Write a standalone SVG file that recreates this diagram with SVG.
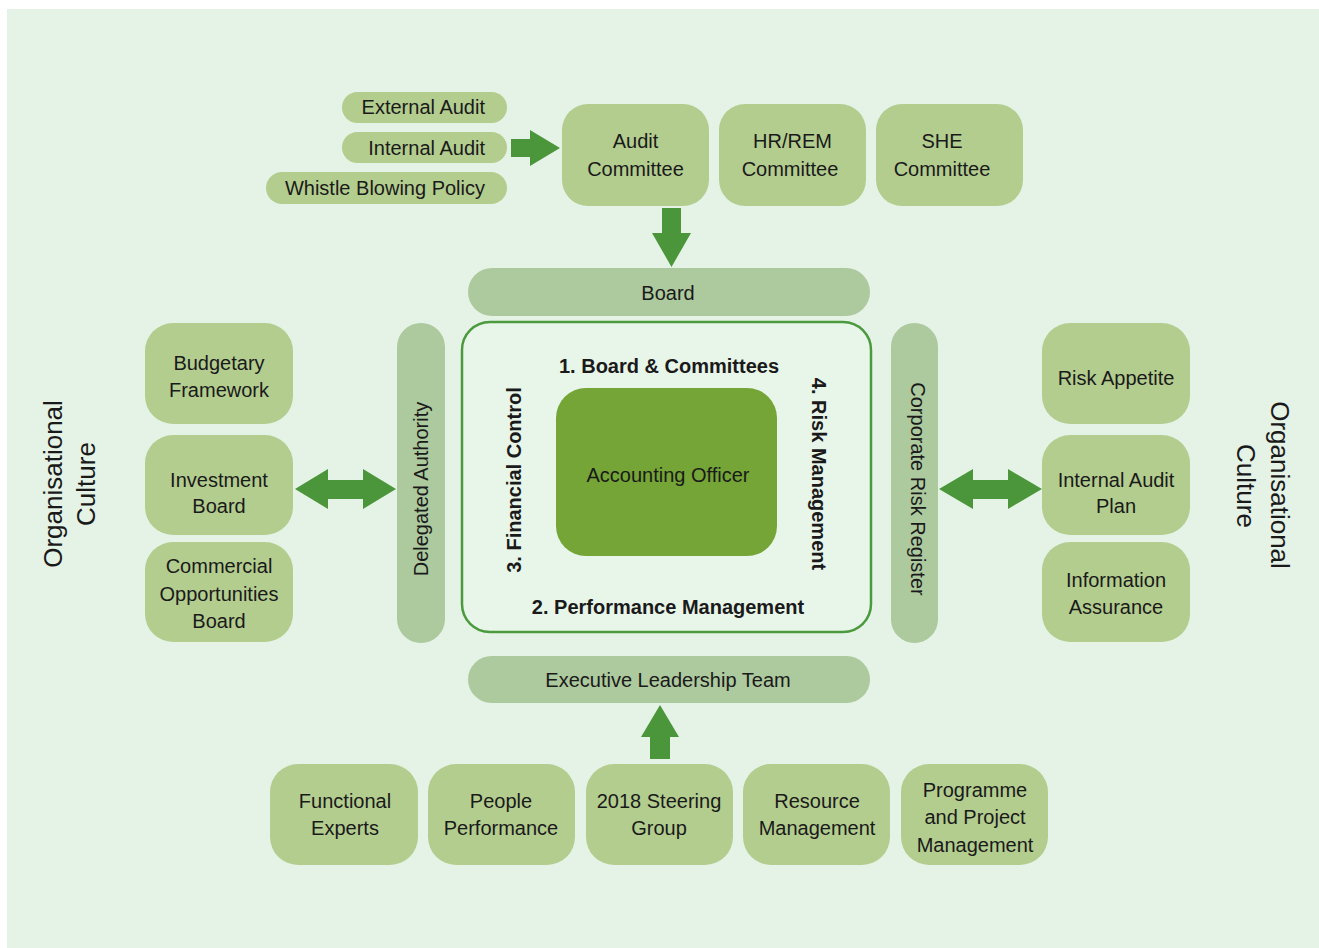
<svg xmlns="http://www.w3.org/2000/svg" width="1319" height="948" viewBox="0 0 1319 948">
<style>
text{font-family:"Liberation Sans",Arial,sans-serif;font-size:20px;fill:#1a1a1a;text-anchor:middle}
.b{font-weight:bold}
.big{font-size:26px}
.end{text-anchor:end}
.node{fill:#b3cd8f}
.pill{fill:#adc99e}
.arrow{fill:#4b963a}
</style>
<rect x="7" y="9" width="1312" height="939" fill="#e5f3e6"/>

<g id="connectors">
<polygon class="arrow" points="511,139 530,139 530,130 560,148 530,166 530,157 511,157"/>
<polygon class="arrow" points="662,208 681,208 681,233 691,233 671.5,267 652,233 662,233"/>
<polygon class="arrow" points="650,759 670,759 670,737 679,737 660,705 641,737 650,737"/>
<polygon class="arrow" points="295,489 328,469 328,480 363,480 363,469 396,489 363,509 363,499 328,499 328,509"/>
<polygon class="arrow" points="939,489 973,469 973,480 1008,480 1008,469 1042,489 1008,509 1008,499 973,499 973,509"/>
</g>

<g id="external-audit"><rect class="node" x="342" y="92" width="165" height="31" rx="15.5"/><text class="end" x="485" y="114">External Audit</text></g>
<g id="internal-audit"><rect class="node" x="342" y="132" width="165" height="31" rx="15.5"/><text class="end" x="485" y="155">Internal Audit</text></g>
<g id="whistle-blowing"><rect class="node" x="266" y="172" width="241" height="32" rx="16"/><text class="end" x="485" y="195">Whistle Blowing Policy</text></g>

<g id="audit-committee"><rect class="node" x="562" y="104" width="147" height="102" rx="26"/><text x="635.5" y="148">Audit</text><text x="635.5" y="176">Committee</text></g>
<g id="hr-rem-committee"><rect class="node" x="719" y="104" width="147" height="102" rx="26"/><text x="792.5" y="148">HR/REM</text><text x="790" y="176">Committee</text></g>
<g id="she-committee"><rect class="node" x="876" y="104" width="147" height="102" rx="26"/><text x="942" y="148">SHE</text><text x="942" y="176">Committee</text></g>

<g id="board"><rect class="pill" x="468" y="268" width="402" height="48" rx="24"/><text x="668" y="300">Board</text></g>

<g id="governance-frame">
<rect x="462" y="322" width="409" height="310" rx="28" fill="#e8f5e9" stroke="#4b9a3d" stroke-width="2.5"/>
<text class="b" x="669" y="373">1. Board &amp; Committees</text>
<text class="b" x="668" y="614">2. Performance Management</text>
<text class="b" transform="translate(521,480) rotate(-90)">3. Financial Control</text>
<text class="b" transform="translate(812,474) rotate(90)">4. Risk Management</text>
</g>

<g id="accounting-officer"><rect x="556" y="388" width="221" height="168" rx="30" fill="#74a536"/><text x="668" y="482">Accounting Officer</text></g>

<g id="delegated-authority"><rect class="pill" x="397" y="323" width="48" height="320" rx="24"/><text transform="translate(428,489) rotate(-90)">Delegated Authority</text></g>
<g id="corporate-risk-register"><rect class="pill" x="891" y="323" width="47" height="320" rx="23.5"/><text transform="translate(911,489) rotate(90)">Corporate Risk Register</text></g>

<g id="budgetary-framework"><rect class="node" x="145" y="323" width="148" height="101" rx="28"/><text x="219" y="370">Budgetary</text><text x="219" y="397">Framework</text></g>
<g id="investment-board"><rect class="node" x="145" y="435" width="148" height="100" rx="28"/><text x="219" y="487">Investment</text><text x="219" y="513">Board</text></g>
<g id="commercial-opportunities-board"><rect class="node" x="145" y="542" width="148" height="100" rx="28"/><text x="219" y="573">Commercial</text><text x="219" y="601">Opportunities</text><text x="219" y="628">Board</text></g>

<g id="risk-appetite"><rect class="node" x="1042" y="323" width="148" height="101" rx="28"/><text x="1116" y="385">Risk Appetite</text></g>
<g id="internal-audit-plan"><rect class="node" x="1042" y="435" width="148" height="100" rx="28"/><text x="1116" y="487">Internal Audit</text><text x="1116" y="513">Plan</text></g>
<g id="information-assurance"><rect class="node" x="1042" y="542" width="148" height="100" rx="28"/><text x="1116" y="587">Information</text><text x="1116" y="614">Assurance</text></g>

<g id="organisational-culture-left"><text class="big" transform="translate(62,484) rotate(-90)">Organisational</text><text class="big" transform="translate(95,484) rotate(-90)">Culture</text></g>
<g id="organisational-culture-right"><text class="big" transform="translate(1271,485) rotate(90)">Organisational</text><text class="big" transform="translate(1237,486) rotate(90)">Culture</text></g>

<g id="executive-leadership-team"><rect class="pill" x="468" y="656" width="402" height="47" rx="23.5"/><text x="668" y="687">Executive Leadership Team</text></g>

<g id="functional-experts"><rect class="node" x="270" y="764" width="148" height="101" rx="28"/><text x="345" y="808">Functional</text><text x="345" y="835">Experts</text></g>
<g id="people-performance"><rect class="node" x="428" y="764" width="147" height="101" rx="28"/><text x="501" y="808">People</text><text x="501" y="835">Performance</text></g>
<g id="steering-group"><rect class="node" x="586" y="764" width="147" height="101" rx="28"/><text x="659" y="808">2018 Steering</text><text x="659" y="835">Group</text></g>
<g id="resource-management"><rect class="node" x="743" y="764" width="147" height="101" rx="28"/><text x="817" y="808">Resource</text><text x="817" y="835">Management</text></g>
<g id="programme-project-management"><rect class="node" x="901" y="764" width="147" height="101" rx="28"/><text x="975" y="797">Programme</text><text x="975" y="824">and Project</text><text x="975" y="852">Management</text></g>
</svg>
